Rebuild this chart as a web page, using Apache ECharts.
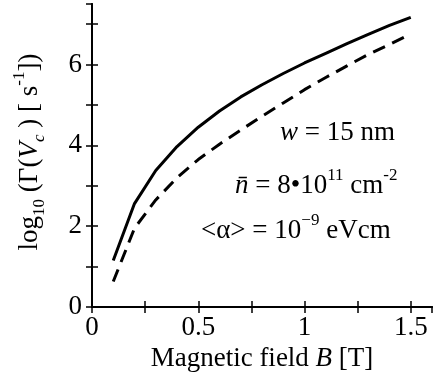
<!DOCTYPE html>
<html>
<head>
<meta charset="utf-8">
<script src="https://cdn.jsdelivr.net/npm/echarts@6/dist/echarts.min.js"></script>
<style>
  html, body { margin: 0; padding: 0; background: #fff; }
  #chart { width: 436px; height: 377px; }
</style>
</head>
<body>
<div id="chart"></div>
<script>
// magnetic field B [T]
const fieldB = [0.1, 0.2, 0.3, 0.4, 0.5, 0.6, 0.7, 0.8, 0.9, 1.0, 1.1, 1.2, 1.3, 1.4, 1.5]
// log10 of the rate, solid curve
const rateSolid = [1.15, 2.56, 3.38, 3.97, 4.45, 4.85, 5.2, 5.5, 5.78, 6.04, 6.28, 6.52, 6.75, 6.97, 7.17]
// log10 of the rate, dashed curve
const rateDashed = [0.63, 1.95, 2.65, 3.2, 3.65, 4.03, 4.38, 4.72, 5.05, 5.38, 5.68, 5.97, 6.25, 6.5, 6.76]

const serif = '"Liberation Serif", "Times New Roman", serif'

let myChart = echarts.init(document.getElementById('chart'))

function pairs(xs, ys) {
  return xs.map((x, i) => [x, ys[i]])
}

const axisLine = { show: true, lineStyle: { color: '#000', width: 2 } }
const tickStyle = { color: '#000', width: 1.5 }
// padding makes the token taller than the line, so 'top' lifts it
const supStyle = { fontSize: 17, fontFamily: serif, verticalAlign: 'top', padding: [0, 0, 20, 0] }
const subStyle = { fontSize: 17, fontFamily: serif, verticalAlign: 'bottom', padding: [13, 0, 0, 0] }

myChart.setOption({
  animation: false,
  grid: {
    left: 92,
    right: 4,
    top: 4,
    bottom: 70,
    outerBoundsMode: 'none',
  },
  xAxis: [
    {
      type: 'value',
      min: 0,
      max: 1.6,
      interval: 0.25,
      position: 'bottom',
      splitLine: { show: false },
      axisLine: axisLine,
      axisTick: { inside: true, length: 6, lineStyle: tickStyle },
      axisLabel: {
        margin: 7,
        color: '#000',
        fontFamily: serif,
        fontSize: 27,
        showMaxLabel: false,
        formatter: function (v) {
          // only label multiples of 0.5
          if (Math.abs(v * 2 - Math.round(v * 2)) > 1e-6) return ''
          return String(Math.round(v * 10) / 10)
        },
      },
      name: 'Magnetic field {i|B} [T]',
      nameLocation: 'middle',
      nameGap: 35,
      nameTextStyle: {
        color: '#000',
        fontFamily: serif,
        fontSize: 27,
        rich: {
          i: { fontFamily: serif, fontSize: 27, fontStyle: 'italic', color: '#000' },
        },
      },
    },
    {
      type: 'value',
      min: 0,
      max: 1.6,
      interval: 0.25,
      position: 'top',
      splitLine: { show: false },
      axisLine: axisLine,
      axisTick: { inside: true, length: 6, lineStyle: tickStyle },
      axisLabel: { show: false },
    },
  ],
  yAxis: [
    {
      type: 'value',
      min: 0,
      max: 7.5,
      interval: 1,
      position: 'left',
      splitLine: { show: false },
      axisLine: axisLine,
      axisTick: { inside: true, length: 6, lineStyle: tickStyle },
      axisLabel: {
        margin: 10,
        color: '#000',
        fontFamily: serif,
        fontSize: 27,
        showMaxLabel: false,
        formatter: function (v) {
          return v % 2 === 0 ? String(v) : ''
        },
      },
    },
    {
      type: 'value',
      min: 0,
      max: 7.5,
      interval: 1,
      position: 'right',
      splitLine: { show: false },
      axisLine: axisLine,
      axisTick: { inside: true, length: 6, lineStyle: tickStyle },
      axisLabel: { show: false },
    },
  ],
  graphic: [
    {
      type: 'text',
      x: 30,
      y: 152,
      rotation: Math.PI / 2,
      style: {
        text: 'log{sub|10} (Γ({i|V}{isub|c} ) [ s{sup|-1}])',
        font: '27px ' + serif,
        fill: '#000',
        align: 'center',
        verticalAlign: 'middle',
        rich: {
          sub: subStyle,
          isub: Object.assign({}, subStyle, { fontStyle: 'italic' }),
          i: { fontSize: 27, fontFamily: serif, fontStyle: 'italic' },
          sup: supStyle,
        },
      },
    },
    {
      type: 'text',
      x: 280,
      y: 133,
      style: {
        text: '{i|w} = 15 nm',
        font: '27px ' + serif,
        fill: '#000',
        align: 'left',
        verticalAlign: 'middle',
        rich: { i: { fontSize: 27, fontFamily: serif, fontStyle: 'italic' } },
      },
    },
    {
      type: 'text',
      x: 235,
      y: 186,
      style: {
        text: '{i|n\u0304} = 8\u202210{sup|11} cm{sup|-2}',
        font: '27px ' + serif,
        fill: '#000',
        align: 'left',
        verticalAlign: 'middle',
        rich: {
          i: { fontSize: 27, fontFamily: serif, fontStyle: 'italic' },
          sup: supStyle,
        },
      },
    },
    {
      type: 'text',
      x: 201,
      y: 231,
      style: {
        text: '<α> = 10{sup|\u22129} eVcm',
        font: '27px ' + serif,
        fill: '#000',
        align: 'left',
        verticalAlign: 'middle',
        rich: { sup: supStyle },
      },
    },
  ],
  series: [
    {
      name: 'solid',
      type: 'line',
      xAxisIndex: 0,
      yAxisIndex: 0,
      showSymbol: false,
      lineStyle: { color: '#000', width: 3 },
      data: pairs(fieldB, rateSolid),
    },
    {
      name: 'dashed',
      type: 'line',
      xAxisIndex: 0,
      yAxisIndex: 0,
      showSymbol: false,
      lineStyle: { color: '#000', width: 3, type: [13, 8] },
      data: pairs(fieldB, rateDashed),
    },
  ],
})
</script>
</body>
</html>
